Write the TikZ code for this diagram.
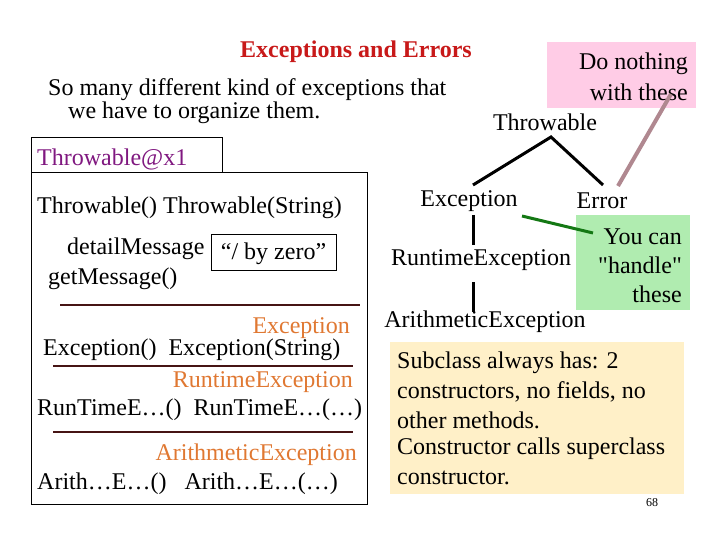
\documentclass[tikz,border=0pt]{standalone}
\usepackage{fontspec}
\setmainfont{Liberation Serif}
\newcommand{\straightdq}{\XeTeXglyph\XeTeXcharglyph"22\relax}
\definecolor{titlered}{RGB}{200,25,25}
\definecolor{objpurple}{RGB}{128,24,128}
\definecolor{clsorange}{RGB}{224,120,50}
\definecolor{sepbrown}{RGB}{70,20,20}
\definecolor{pinkbox}{RGB}{255,204,230}
\definecolor{mauveline}{RGB}{176,136,144}
\definecolor{greenline}{RGB}{20,120,20}
\definecolor{greenbox}{RGB}{176,236,176}
\definecolor{yellowbox}{RGB}{255,240,200}
\tikzset{
  txt/.style={inner sep=0pt, yshift=-2pt, font=\fontsize{24}{28}\selectfont},
  lft/.style={txt, anchor=west},
  rgt/.style={txt, anchor=east},
  treeline/.style={line width=3pt, black},
  sepline/.style={line width=2pt, sepbrown},
  cls/.style={rgt, text=clsorange},
}
\begin{document}
\begin{tikzpicture}[x=1pt,y=-1pt]
\useasboundingbox[fill=white] (0,0) rectangle (720,540);
% title
\node[txt, font=\fontsize{24}{28}\selectfont\bfseries, text=titlered] (title) at (356,50) {Exceptions and Errors};
\node[lft] (intro1) at (48,88) {So many different kind of exceptions that};
\node[lft] (intro2) at (68,111) {we have to organize them.};
% pink box
\fill[pinkbox] (547,42) rectangle (696,108);
\node[rgt] (pk1) at (688,62) {Do nothing};
\node[rgt] (pk2) at (688,90) {with these};
\coordinate (pkend) at (671,94);
% tree
\node[txt] (throwable) at (545,120) {Throwable};
\node[txt] (exception) at (469,199) {Exception};
\node[txt] (error) at (602,199) {Error};
\node[txt] (runtime) at (481,258) {RuntimeException};
\node[txt] (arith) at (485,320) {ArithmeticException};
\coordinate (apex) at (551,137);
\coordinate (exTop) at (473,185);
\coordinate (erTop) at (603,185);
\draw[treeline, line join=miter] (exTop) -- (apex) -- (erTop);
\draw[mauveline, line width=4pt] (pkend) -- (618,186);
\draw[treeline] (473,215) -- (473,245);
\draw[treeline] (473,282) -- (473,312);
% green box
\fill[greenbox] (576,215) rectangle (690,310);
\node[rgt] (gb1) at (682,235) {You can};
\node[rgt] (gb2) at (682,263) {\straightdq handle\straightdq};
\node[rgt] (gb3) at (682,292) {these};
\coordinate (gStart) at (522,216);
\coordinate (gEnd) at (593,233);
\draw[greenline, line width=3pt] (gStart) -- (gEnd);
% yellow box
\fill[yellowbox] (390,342) rectangle (684,494);
\node[lft] (yb1) at (397,361) {Subclass always has: 2};
\node[lft] (yb2) at (397,390) {constructors, no fields, no};
\node[lft] (yb3) at (397,418) {other methods.};
\node[lft] (yb4) at (397,447) {Constructor calls superclass};
\node[lft] (yb5) at (397,476) {constructor.};
\node[inner sep=0pt, font=\fontsize{12}{14}\selectfont] (pnum) at (652,503) {68};
% object box
\draw[line width=1pt] (31,138) rectangle (222,173);
\draw[line width=1pt] (31,173) rectangle (367,504);
\node[lft, text=objpurple] (objname) at (37,157) {Throwable@x1};
\node[lft] (tctor) at (37,206) {Throwable() Throwable(String)};
\node[lft] (dmsg) at (67,247) {detailMessage};
\draw[line width=1pt] (211,234) rectangle (336,270);
\node[txt] (dval) at (273.5,252) {“/ by zero”};
\node[lft] (gmsg) at (48,277) {getMessage()};
\draw[sepline] (60,305) -- (360,305);
\node[cls] (cEx) at (350,326) {Exception};
\node[lft] (exctor) at (43,348) {Exception()\ \ Exception(String)};
\draw[sepline] (53,366) -- (353,366);
\node[cls] (cRt) at (353,380) {RuntimeException};
\node[lft] (rtctor) at (37,408) {RunTimeE…()\ \ RunTimeE…(…)};
\draw[sepline] (53,432) -- (353,432);
\node[cls] (cAr) at (357,453) {ArithmeticException};
\node[lft] (arctor) at (37,482) {Arith…E…()\ \ \ Arith…E…(…)};
\end{tikzpicture}
\end{document}
